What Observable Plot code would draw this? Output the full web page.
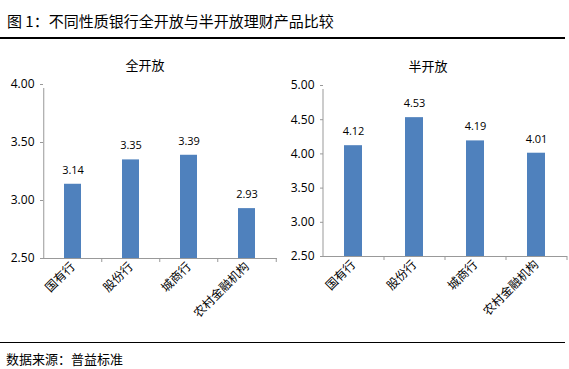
<!DOCTYPE html>
<html><head><meta charset="utf-8">
<script src="https://cdn.jsdelivr.net/npm/d3@7"></script>
<script src="https://cdn.jsdelivr.net/npm/@observablehq/plot@0.6"></script>
<style>
body{margin:0;background:#fff;width:569px;height:369px;position:relative;overflow:hidden;font-family:"Noto Sans CJK SC",sans-serif;}
.abs{position:absolute;}
#title{left:7px;top:10px;font-size:15px;color:#000;white-space:nowrap;}
#topline{left:0;top:37px;width:565px;height:2px;background:#000;}
#botline{left:0;top:342px;width:565px;height:1px;background:#000;}
#source{left:6px;top:349px;font-size:13px;color:#000;white-space:nowrap;}
.ptitle{font-size:13px;color:#000;transform:translateX(-50%);white-space:nowrap;}
</style></head><body>
<div id="title" class="abs">图 1：不同性质银行全开放与半开放理财产品比较</div>
<div id="topline" class="abs"></div>
<div id="left" class="abs" style="left:0;top:40px"></div>
<div id="right" class="abs" style="left:280px;top:40px"></div>
<div class="abs ptitle" style="left:145px;top:55px">全开放</div>
<div class="abs ptitle" style="left:428px;top:56px">半开放</div>
<div id="botline" class="abs"></div>
<div id="source" class="abs">数据来源：普益标准</div>
<script>
const categories = ["国有行", "股份行", "城商行", "农村金融机构"];
const fullOpen = [3.14, 3.35, 3.39, 2.93];
const halfOpen = [4.12, 4.53, 4.19, 4.01];
const fullTicks = [2.5, 3.0, 3.5, 4.0];
const halfTicks = [2.5, 3.0, 3.5, 4.0, 4.5, 5.0];

function panel(values, ticks, domain, opts) {
  const data = categories.map((c, i) => ({cat: c, v: values[i]}));
  const step = (opts.width - opts.marginLeft - opts.marginRight) / categories.length;
  const first = categories[0];
  const last = categories[categories.length - 1];
  return Plot.plot({
    width: opts.width, height: opts.height,
    marginLeft: opts.marginLeft, marginRight: opts.marginRight,
    marginTop: opts.marginTop, marginBottom: opts.marginBottom,
    style: {fontFamily: "'Noto Sans CJK SC', sans-serif", background: "transparent", color: "#000"},
    x: {domain: categories, paddingInner: 0.7, paddingOuter: 0.35, label: null},
    y: {domain, label: null},
    marks: [
      Plot.barY(data, {x: "cat", y1: domain[0], y2: "v", fill: "#4F81BD"}),
      Plot.text(data, {x: "cat", y: "v", text: d => d.v.toFixed(2), dy: -14, fontSize: 11, fill: "#000", fontFamily: "'Open Sans', sans-serif"}),
      Plot.ruleY([domain[0]], {stroke: "#999"}),
      Plot.ruleX(categories.slice(1), {x: d => d, y1: domain[0], y2: domain[0], insetBottom: -4, dx: -step / 2, stroke: "#999"}),
      Plot.ruleX([last], {x: d => d, y1: domain[0], y2: domain[0], insetBottom: -4, dx: step / 2, stroke: "#999"}),
      Plot.ruleX([first], {x: d => d, y1: domain[0], y2: domain[1], insetBottom: -4, dx: -step / 2, stroke: "#999"}),
      Plot.axisY({ticks, tickFormat: d => d.toFixed(2), tickSize: 3, tickPadding: 6, stroke: "#999", fontSize: 12, fill: "#000", fontFamily: "'Open Sans', sans-serif", label: null}),
      Plot.axisX({tickSize: 0, tickRotate: -45, tickPadding: 6, fontSize: 12, fill: "#000", label: null})
    ]
  });
}

document.getElementById("left").appendChild(panel(fullOpen, fullTicks, [2.5, 4.0],
  {width: 285, height: 300, marginLeft: 43, marginRight: 8, marginTop: 44, marginBottom: 82}));
document.getElementById("right").appendChild(panel(halfOpen, halfTicks, [2.5, 5.0],
  {width: 289, height: 300, marginLeft: 43, marginRight: 2, marginTop: 45, marginBottom: 84}));
</script>
</body></html>
